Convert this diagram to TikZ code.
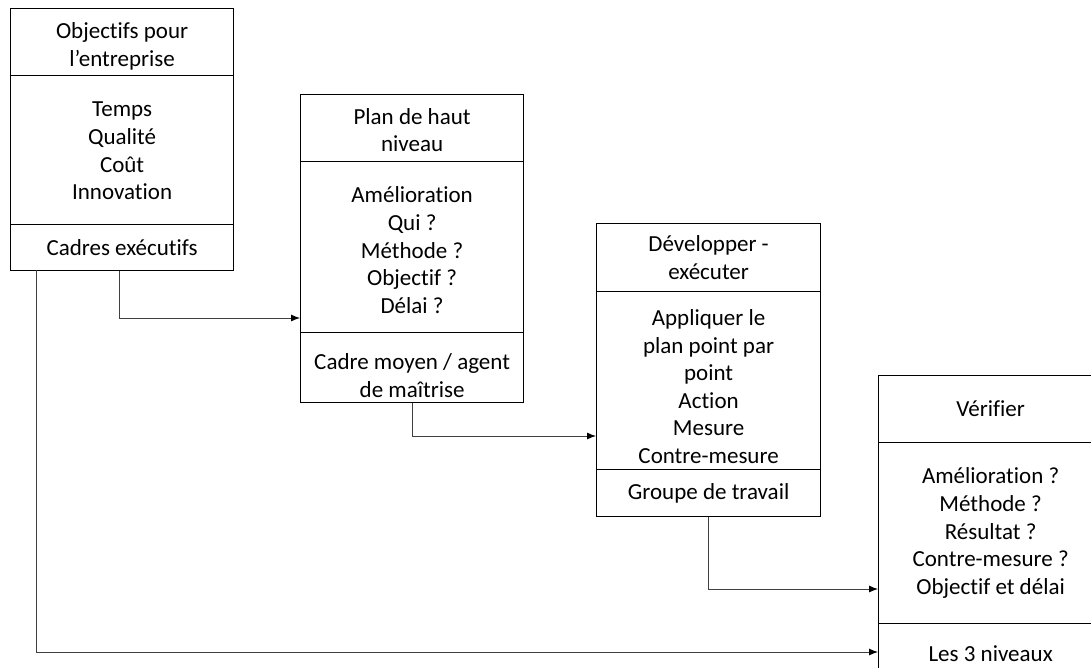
\documentclass[tikz,border=0pt]{standalone}
\usepackage{fontspec}
\setmainfont{Carlito}[RawFeature={-liga}]
\usetikzlibrary{arrows.meta}
\begin{document}
\begin{tikzpicture}[x=1pt,y=-1pt,
  frame/.style={draw=black,line width=1.2pt,fill=white,anchor=north west,inner sep=0pt},
  txt/.style={inner sep=0pt,align=center,font=\fontsize{23}{27.6}\selectfont},
  link/.style={draw=black!75,line width=0.9pt,-{Latex[length=9pt,width=7pt,fill=black,color=black]}}]
\useasboundingbox (0,0) rectangle (1091,668);
\clip (0,0) rectangle (1091,668);

% Objectifs pour l'entreprise
\node[frame,minimum width=223,minimum height=67]  (b1t) at (10,8)   {};
\node[frame,minimum width=223,minimum height=149] (b1m) at (10,75)  {};
\node[frame,minimum width=223,minimum height=46]  (b1b) at (10,224) {};
\node[txt] (b1t-text) at ([yshift=-4pt]b1t.center) {Objectifs pour\\l’entreprise};
\node[txt] (b1m-text) at ([yshift=-1pt]b1m.center) {Temps\\Qualité\\Coût\\Innovation};
\node[txt] (b1b-text) at (b1b.center) {Cadres exécutifs};

% Plan de haut niveau
\node[frame,minimum width=223,minimum height=67]  (b2t) at (300,94)  {};
\node[frame,minimum width=223,minimum height=171] (b2m) at (300,161) {};
\node[frame,minimum width=223,minimum height=70]  (b2b) at (300,332) {};
\node[txt] (b2t-text) at ([yshift=-2pt]b2t.center) {Plan de haut\\niveau};
\node[txt] (b2m-text) at ([yshift=-3pt]b2m.center) {Amélioration\\Qui ?\\Méthode ?\\Objectif ?\\Délai ?};
\node[txt] (b2b-text) at ([yshift=-8pt]b2b.center) {Cadre moyen / agent\\de maîtrise};

% Développer - exécuter
\node[frame,minimum width=224,minimum height=68]  (b3t) at (596,223) {};
\node[frame,minimum width=224,minimum height=178] (b3m) at (596,291) {};
\node[frame,minimum width=224,minimum height=47]  (b3b) at (596,469) {};
\node[txt] (b3t-text) at (b3t.center) {Développer -\\exécuter};
\node[txt] (b3m-text) at ([yshift=-6pt]b3m.center) {Appliquer le\\plan point par\\point\\Action\\Mesure\\Contre-mesure};
\node[txt] (b3b-text) at (b3b.center) {Groupe de travail};

% Vérifier
\node[frame,minimum width=224,minimum height=67]  (b4t) at (878,375) {};
\node[frame,minimum width=224,minimum height=181] (b4m) at (878,442) {};
\node[frame,minimum width=224,minimum height=60]  (b4b) at (878,623) {};
\node[txt] (b4t-text) at (b4t.center) {Vérifier};
\node[txt] (b4m-text) at (b4m.center) {Amélioration ?\\Méthode ?\\Résultat ?\\Contre-mesure ?\\Objectif et délai};
\node[txt] (b4b-text) at (b4b.center) {Les 3 niveaux};

% entry points of the connectors
\coordinate (in2) at (300,318);
\coordinate (in3) at (596,436);
\coordinate (in4) at (878,589);
\coordinate (in4b) at (878,652);
\coordinate (out1) at (36,270);

\draw[link] ([xshift=-2.5pt]b1b.south) |- (in2);
\draw[link] (b2b.south) |- (in3);
\draw[link] (b3b.south) |- (in4);
\draw[link] (out1) |- (in4b);
\end{tikzpicture}
\end{document}
